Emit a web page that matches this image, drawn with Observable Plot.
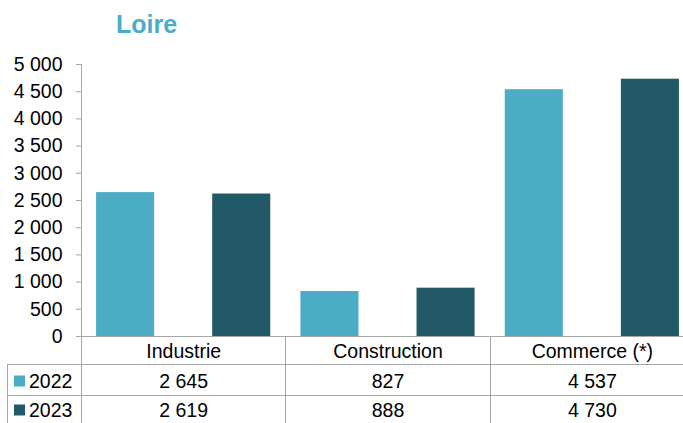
<!DOCTYPE html>
<html><head><meta charset="utf-8">
<script src="https://cdn.jsdelivr.net/npm/d3@7"></script>
<script src="https://cdn.jsdelivr.net/npm/@observablehq/plot@0.6"></script>
<style>
html,body{margin:0;padding:0;background:#fff;overflow:hidden}
#wrap{position:relative;width:683px;height:423px;overflow:hidden;font-family:"Liberation Sans",Arial,sans-serif}
#title{position:absolute;left:116px;top:12px;font-size:25px;font-weight:bold;color:#4bacc6;line-height:25px}
#chart{position:absolute;left:0;top:0;width:694px}
#chart svg{max-width:none !important}
#chart svg text{fill:#000}
</style></head>
<body><div id="wrap"><div id="chart"></div><div id="title">Loire</div></div>
<script>
const categories = ["Industrie", "Construction", "Commerce (*)"];
const years = ["2022", "2023"];
const values2022 = [2645, 827, 4537];
const values2023 = [2619, 888, 4730];
const yTicks = [0, 500, 1000, 1500, 2000, 2500, 3000, 3500, 4000, 4500, 5000];
const colors = ["#4bacc6", "#215968"];

const fmt = d3.formatLocale({thousands: "\u00a0", grouping: [3], decimal: ",", currency: ["", "€"]}).format(",d");
const data = categories.flatMap((c, i) => [
  {cat: c, year: "2022", value: values2022[i]},
  {cat: c, year: "2023", value: values2023[i]}
]);

const W = 694, H = 423, ML = 81, MT = 64, MB = 87;
const gray = "#a6a6a6";

const plot = Plot.plot({
  width: W, height: H,
  marginLeft: ML, marginRight: 0, marginTop: MT, marginBottom: MB,
  style: {fontFamily: "'Liberation Sans', Arial, sans-serif", fontSize: "19.5px", color: gray, background: "white", overflow: "visible", maxWidth: "none"},
  fx: {domain: categories, padding: 0, axis: null, round: false},
  x: {domain: years, paddingInner: 0.5, paddingOuter: 0.13, axis: null, round: false},
  y: {domain: [0, 5000], ticks: yTicks, tickFormat: fmt, tickSize: 5, tickPadding: 14, label: null, line: false, grid: false},
  color: {domain: years, range: colors},
  marks: [
    Plot.barY(data, {fx: "cat", x: "year", y: "value", fill: "year"}),
    Plot.ruleY([0], {stroke: gray}),
    Plot.text(categories, {fx: d => d, text: d => d, frameAnchor: "bottom", lineAnchor: "middle", dy: 15.5, fill: "black"}),
    Plot.text(data.filter(d => d.year === "2022"), {fx: "cat", text: d => fmt(d.value), frameAnchor: "bottom", lineAnchor: "middle", dy: 45, fill: "black"}),
    Plot.text(data.filter(d => d.year === "2023"), {fx: "cat", text: d => fmt(d.value), frameAnchor: "bottom", lineAnchor: "middle", dy: 74.5, fill: "black"})
  ]
});
plot.style.maxWidth = "none";
document.getElementById("chart").appendChild(plot);

// table grid, legend keys and row labels
const svg = d3.select(plot);
const fxs = d3.scaleBand(categories, [ML, W]);
const base = H - MB;           // 336
const rowLines = [364, 395];
const g = svg.append("g").attr("stroke", gray).attr("stroke-width", 1).attr("shape-rendering", "crispEdges");
g.append("line").attr("x1", ML + 0.5).attr("x2", ML + 0.5).attr("y1", MT).attr("y2", H);
categories.forEach(c => {
  const x = Math.round(fxs(c) + fxs.bandwidth()) + 0.5;
  g.append("line").attr("x1", x).attr("x2", x).attr("y1", base).attr("y2", H);
});
g.append("line").attr("x1", 7.5).attr("x2", 7.5).attr("y1", rowLines[0]).attr("y2", H);
rowLines.forEach(y => g.append("line").attr("x1", 7).attr("x2", W).attr("y1", y + 0.5).attr("y2", y + 0.5));

const rowCenters = [381, 410];
years.forEach((yr, i) => {
  svg.append("rect").attr("x", 14).attr("y", rowCenters[i] - 5.5).attr("width", 11).attr("height", 11).attr("fill", colors[i]);
  svg.append("text").attr("x", 29).attr("y", rowCenters[i]).attr("dy", "0.35em")
    .attr("text-anchor", "start")
    .style("font-size", "19.5px").style("fill", "#000").text(yr);
});
</script></body></html>
